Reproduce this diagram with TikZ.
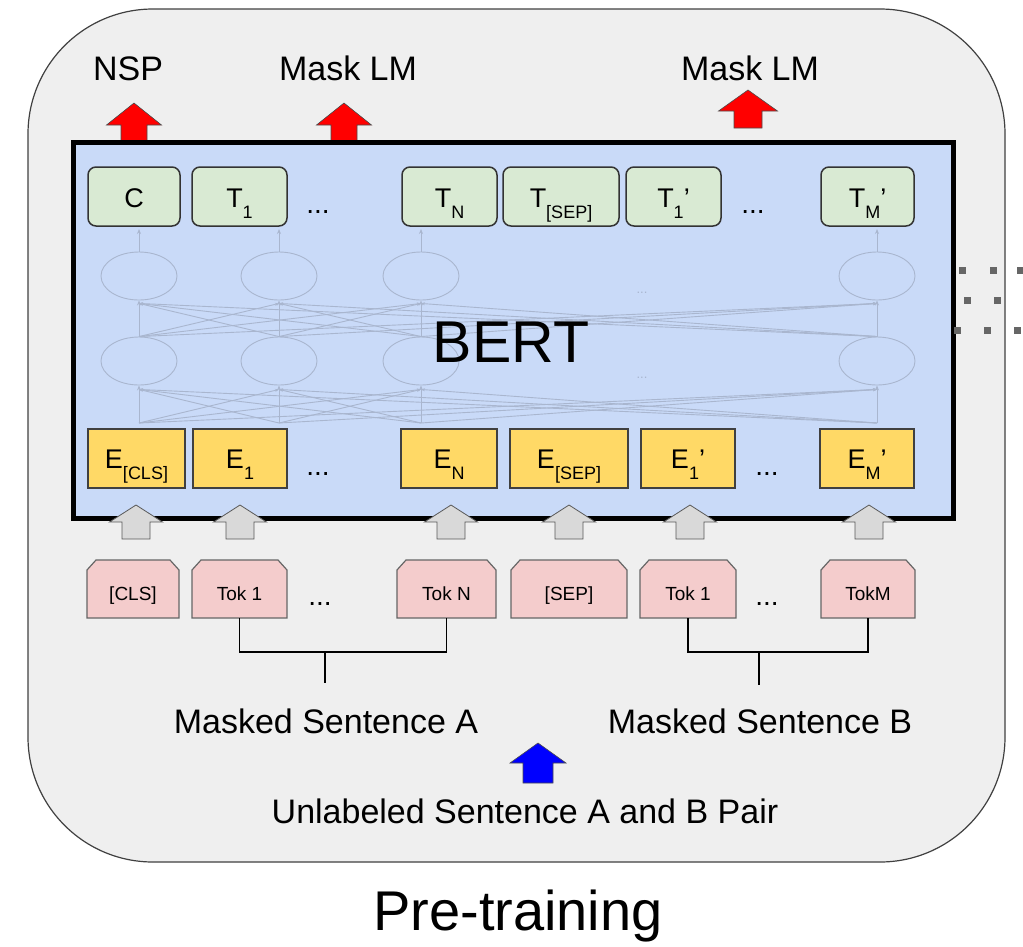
\documentclass[tikz,border=0pt]{standalone}
\usepackage{fontspec}
\setmainfont{Liberation Sans}
\usetikzlibrary{shapes.geometric,arrows.meta,calc}
\definecolor{outerfill}{HTML}{EFEFEF}
\definecolor{bertfill}{HTML}{C9DAF8}
\definecolor{tfill}{HTML}{D9EAD3}
\definecolor{efill}{HTML}{FFD966}
\definecolor{tokfill}{HTML}{F4CCCC}
\definecolor{netc}{HTML}{A9B6CF}
\definecolor{garrow}{HTML}{D9D9D9}
\definecolor{sqc}{HTML}{666666}
\newcommand\fs[1]{\fontsize{#1}{#1}\selectfont}
\newcommand\sbs[1]{\raisebox{-11pt}{\fs{18}#1}}
\newcommand\myarrow[7]{\draw[#7] ({#1-#4/2},{#2+#6}) -- (#1,#2) -- ({#1+#4/2},{#2+#6}) -- ({#1+#5/2},{#2+#6}) -- ({#1+#5/2},#3) -- ({#1-#5/2},#3) -- ({#1-#5/2},{#2+#6}) -- cycle;}
\newcommand\tokbox[4]{%
  \draw[tokline] ({#2-#3/2},618) -- ({#2-#3/2},570) -- ({#2-#3/2+9},560) -- ({#2+#3/2-9},560) -- ({#2+#3/2},570) -- ({#2+#3/2},618) -- cycle;
  \node[toktext, minimum width=#3] (#1) at (#2,600) {#4};}
\begin{document}
\begin{tikzpicture}[x=1pt,y=-1pt,
  lbl/.style={inner sep=0, anchor=base, font=\fs{34}},
  tbox/.style={draw=black!80, line width=1.5pt, fill=tfill, rounded corners=8pt, inner xsep=0, inner ysep=0, text height=40pt, text depth=19pt, anchor=base, font=\fs{27}},
  ebox/.style={draw=black!75, line width=1.2pt, fill=efill, inner xsep=0, inner ysep=0, text height=39pt, text depth=20pt, anchor=base, font=\fs{27}},
  tokline/.style={draw=black!60, line width=1.2pt, fill=tokfill},
  toktext/.style={inner xsep=0, inner ysep=0, text height=40pt, text depth=18pt, anchor=base, font=\fs{19}},
  dots/.style={inner sep=0, anchor=base, font=\fs{28}},
  neuron/.style={ellipse, draw=netc, line width=0.9pt, minimum width=76pt, minimum height=48pt, inner sep=0},
  netarrow/.style={draw=netc, line width=0.9pt, -{Stealth[length=5pt,width=4pt]}},
  netline/.style={draw=netc, line width=0.9pt, -{Stealth[length=4pt,width=3pt]}},
  redarrow/.style={fill=red, draw=black!70, line width=0.6pt},
  grayarrow/.style={fill=garrow, draw=black!65, line width=0.8pt},
  bluearrow/.style={fill=blue, draw=black!70, line width=0.6pt},
  bracket/.style={draw=black, line width=1.2pt},
  sq/.style={fill=sqc}
]
\useasboundingbox (0,0) rectangle (1023,946);
% outer panel
\draw[fill=outerfill, draw=black!75, line width=1.2pt, rounded corners=125pt] (28,9) rectangle (1005,862);
% red arrows to box
\myarrow{134}{103}{141}{55}{26}{22}{redarrow}
\myarrow{344}{103}{141}{55}{26}{22}{redarrow}
\myarrow{748}{90}{128}{59}{28}{21}{redarrow}
% BERT box
\draw[fill=bertfill, draw=black, line width=5pt] (73,142) rectangle (953,518);
% hidden network
\foreach \x [count=\k] in {139,279,421,877} {
  \node[neuron] (lo\k) at (\x,361) {};
  \node[neuron] (up\k) at (\x,276) {};
  \coordinate (ba\k) at (\x,423);
  \coordinate (tp\k) at (\x,229);
}
\foreach \i in {1,...,4} {
  \draw[netarrow] (ba\i) -- (lo\i.south);
  \draw[netarrow] (lo\i.north) -- (up\i.south);
  \draw[netarrow] (up\i.north) -- (tp\i);
  \foreach \j in {1,...,4} {
    \ifnum\i=\j\relax\else
      \draw[netline] (ba\i) -- ($(lo\j.south)+(0,4)$);
      \draw[netline] (lo\i.north) -- ($(up\j.south)+(0,3)$);
    \fi
  }
}
\node[inner sep=0, text=netc, font=\fs{13}] (md1) at (642,293) {...};
\node[inner sep=0, text=netc, font=\fs{13}] (md2) at (642,378) {...};
\node[inner sep=0, anchor=base, font=\fs{59}] (bert) at (511,362) {BERT};
% output boxes
\node[tbox, minimum width=92pt] (c) at (134,207) {C};
\node[tbox, minimum width=95pt] (t1) at (239.5,207) {T\sbs{1}};
\node[dots] (td1) at (318,213) {...};
\node[tbox, minimum width=95pt] (tn) at (449.5,207) {T\sbs{N}};
\node[tbox, minimum width=116pt] (tsep) at (561,207) {T\sbs{[SEP]}};
\node[tbox, minimum width=95pt] (t1b) at (673.5,207) {T\sbs{1}’};
\node[dots] (td2) at (753,213) {...};
\node[tbox, minimum width=93pt] (tmb) at (867.5,207) {T\sbs{M}’};
% embedding boxes
\node[ebox, minimum width=97pt] (ecls) at (136.5,468) {E\sbs{[CLS]}};
\node[ebox, minimum width=94pt] (e1) at (240,468) {E\sbs{1}};
\node[dots] (ed1) at (318,475) {...};
\node[ebox, minimum width=96pt] (en) at (449,468) {E\sbs{N}};
\node[ebox, minimum width=118pt] (esep) at (569,468) {E\sbs{[SEP]}};
\node[ebox, minimum width=94pt] (e1b) at (688,468) {E\sbs{1}’};
\node[dots] (ed2) at (767,475) {...};
\node[ebox, minimum width=94pt] (emb) at (867,468) {E\sbs{M}’};
% gray input arrows
\foreach \x in {136,240,451,569,690,869} {
  \myarrow{\x}{505}{539}{53}{28}{17}{grayarrow}
}
% token boxes
\tokbox{tcls}{133}{92}{[CLS]}
\tokbox{tok1}{239.5}{95}{Tok 1}
\node[dots] (kd1) at (320,605) {...};
\tokbox{tokn}{446.5}{99}{Tok N}
\tokbox{tsepb}{569}{116}{[SEP]}
\tokbox{tok1b}{688}{96}{Tok 1}
\node[dots] (kd2) at (767,605) {...};
\tokbox{tokm}{868}{94}{TokM}
% brackets
\coordinate (ja) at (325,652);
\coordinate (jae) at (325,683);
\coordinate (jb) at (759,652);
\coordinate (jbe) at (759,685);
\draw[bracket] (tok1.south) |- (ja) -| (tokn.south);
\draw[bracket] (ja) -- (jae);
\draw[bracket] (tok1b.south) |- (jb) -| (tokm.south);
\draw[bracket] (jb) -- (jbe);
% labels
\node[lbl] (nsp) at (128,80) {NSP};
\node[lbl] (mlm1) at (348,80) {Mask LM};
\node[lbl] (mlm2) at (750,80) {Mask LM};
\node[lbl] (msa) at (326,733) {Masked Sentence A};
\node[lbl] (msb) at (760,733) {Masked Sentence B};
\myarrow{538}{743}{783}{56}{30}{20}{bluearrow}
\node[lbl] (pair) at (525,823) {Unlabeled Sentence A and B Pair};
\node[inner sep=0, anchor=base, font=\fs{56}] (pre) at (518,930) {Pre-training};
% dots from neighbouring panel
\foreach \p in {(962,270),(993,270),(1020,270),(967,300),(997,300),(957,330),(987,330),(1017,330)} {
  \fill[sq] \p +(-3.5,-3.5) rectangle +(3.5,3.5);
}
\end{tikzpicture}
\end{document}
